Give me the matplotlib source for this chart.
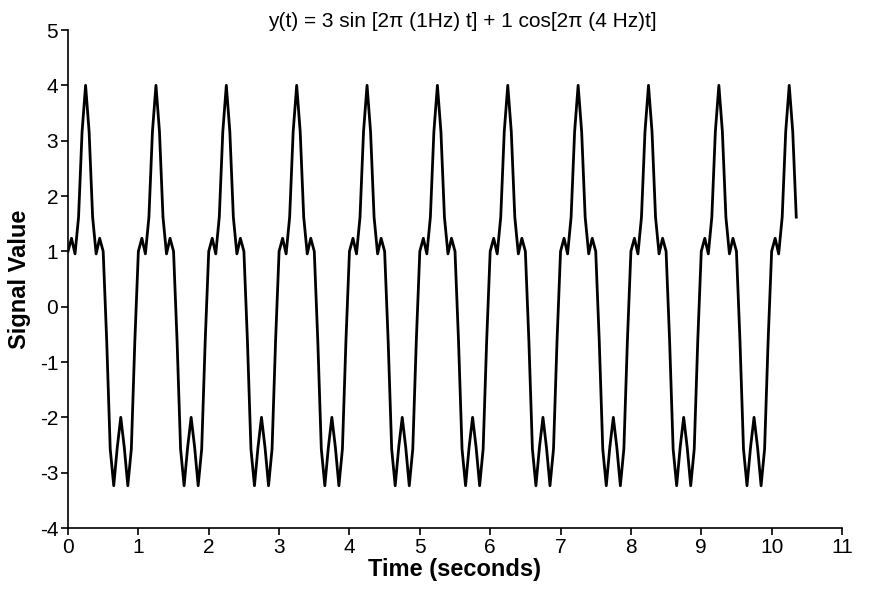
import numpy as np
import matplotlib
matplotlib.use("Agg")
import matplotlib.pyplot as plt

plt.rcParams["font.family"] = "Liberation Sans"
plt.rcParams["axes.unicode_minus"] = False

# one period of samples (dt = 0.05 s)
period_values = [1.0, 1.236, 0.954, 1.618, 3.162, 4.0, 3.162, 1.618, 0.954, 1.236,
                 1.0, -0.618, -2.572, -3.236, -2.544, -2.0, -2.544, -3.236, -2.572, -0.618]
n_samples = 208
dt = 0.05
times = [i * dt for i in range(n_samples)]
values = [period_values[i % len(period_values)] for i in range(n_samples)]

x_ticks = list(range(0, 12))
y_ticks = list(range(-4, 6))

fig = plt.figure(figsize=(8.73, 6.01), dpi=100)
ax = fig.add_axes([68/873, 1-528/601, (842-68)/873, (528-30)/601])
ax.plot(times, values, color="black", linewidth=2)
ax.set_xlim(0, 11)
ax.set_ylim(-4, 5)
ax.set_xticks(x_ticks)
ax.set_yticks(y_ticks)
ax.tick_params(labelsize=15, direction="out", length=5, width=1.2, pad=2)
ax.spines["top"].set_visible(False)
ax.spines["right"].set_visible(False)
for s in ("left", "bottom"):
    ax.spines[s].set_linewidth(1.2)
ax.set_xlabel("Time (seconds)", fontsize=17, fontweight="bold", labelpad=1)
ax.set_ylabel("Signal Value", fontsize=17, fontweight="bold", labelpad=6)
fig.text(0.53, 0.965, "y(t) = 3 sin [2π (1Hz) t] + 1 cos[2π (4 Hz)t]", ha="center", va="center", fontsize=15)
fig.savefig("out.png", dpi=100)
